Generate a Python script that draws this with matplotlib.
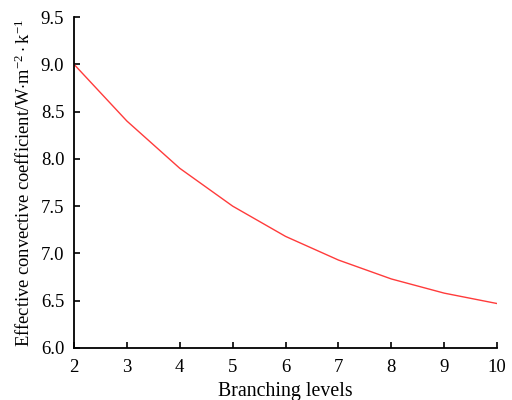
import matplotlib
matplotlib.use('Agg')
import matplotlib.pyplot as plt

# data
levels = [2, 3, 4, 5, 6, 7, 8, 9, 10]
coef = [9.0, 8.4, 7.9, 7.5, 7.18, 6.93, 6.73, 6.58, 6.47]
yticks = [6.0, 6.5, 7.0, 7.5, 8.0, 8.5, 9.0, 9.5]

plt.rcParams.update({
    'font.family': 'Liberation Serif',
    'mathtext.fontset': 'custom',
    'mathtext.rm': 'Liberation Serif',
    'mathtext.it': 'Liberation Serif',
})

fig = plt.figure(figsize=(5.12, 4.0), dpi=100)
ax = fig.add_axes([0.1445, 0.13, 0.8265, 0.8275])

ax.plot(levels, coef, color='#ff3b3b', lw=1.0)

ax.set_xlim(2, 10)
ax.set_ylim(6.0, 9.5)
ax.set_xticks(levels)
ax.set_yticks(yticks)
ax.set_yticklabels([f'{v:.1f}' for v in yticks])
ax.tick_params(direction='in', length=4, width=1.2, labelsize=13.5)
ax.tick_params(axis='y', pad=7)
ax.tick_params(axis='x', pad=8)
for s in ['top', 'right']:
    ax.spines[s].set_visible(False)
for s in ['left', 'bottom']:
    ax.spines[s].set_linewidth(1.3)

ax.set_xlabel('Branching levels', fontsize=14.3, labelpad=4)
ax.set_ylabel(r'Effective convective coefficient/W$\cdot$m$^{-2}\cdot$k$^{-1}$',
              fontsize=13.3, labelpad=5)

fig.savefig('out.png', dpi=100)
